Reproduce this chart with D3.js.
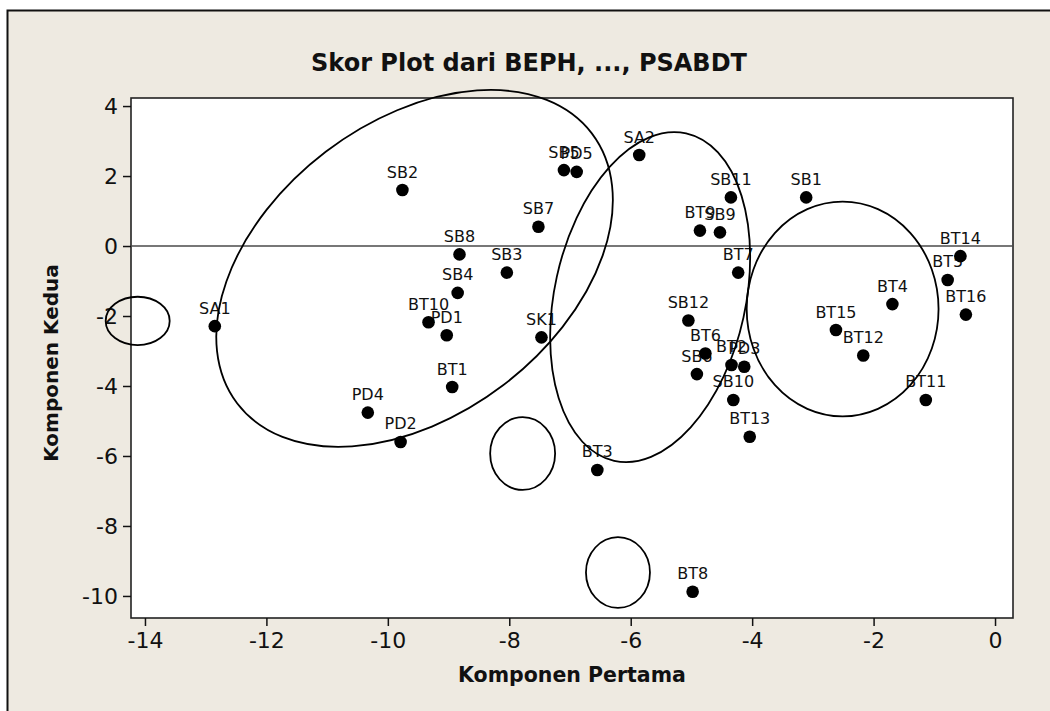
<!DOCTYPE html>
<html>
<head>
<meta charset="utf-8">
<script src="https://cdn.jsdelivr.net/npm/d3@7"></script>
<style>
  body { margin: 0; background: #fff; }
  svg text { font-family: "DejaVu Sans", Verdana, sans-serif; }
</style>
</head>
<body>
<svg id="chart"></svg>
<script>
// skor komponen
var names = ["SA1", "SB2", "BT10", "PD1", "BT1", "PD4", "PD2", "SB8", "SB4", "SB3",
             "SB7", "SB5", "PD5", "SA2", "SK1", "SB11", "BT9", "SB9", "BT7", "SB12",
             "BT6", "SB6", "BT2", "PD3", "SB10", "BT13", "BT3", "BT8", "SB1", "BT14",
             "BT5", "BT4", "BT16", "BT15", "BT12", "BT11"];
var pc1 = [-12.85, -9.76, -9.33, -9.03, -8.94, -10.33, -9.79, -8.82, -8.85, -8.04,
           -7.52, -7.10, -6.89, -5.86, -7.47, -4.35, -4.86, -4.53, -4.23, -5.05,
           -4.77, -4.91, -4.34, -4.13, -4.31, -4.04, -6.55, -4.98, -3.11, -0.57,
           -0.78, -1.69, -0.48, -2.62, -2.17, -1.14];
var pc2 = [-2.29, 1.60, -2.18, -2.55, -4.03, -4.76, -5.60, -0.24, -1.34, -0.76,
           0.55, 2.17, 2.12, 2.60, -2.61, 1.39, 0.44, 0.39, -0.76, -2.13,
           -3.07, -3.66, -3.40, -3.45, -4.40, -5.45, -6.40, -9.88, 1.39, -0.29,
           -0.97, -1.66, -1.96, -2.40, -3.13, -4.40];

var xTicks = [-14, -12, -10, -8, -6, -4, -2, 0];
var yTicks = [4, 2, 0, -2, -4, -6, -8, -10];

// elips yang digambar tangan: pusat dalam satuan data, jari-jari dalam satuan sumbu
var ellCx = [-14.12, -9.56, -5.68, -2.51, -7.78, -6.21];
var ellCy = [-2.14, -0.64, -1.46, -1.80, -5.93, -9.33];
var ellRx = [0.527, 3.67, 2.76, 1.58, 0.535, 0.527];
var ellRy = [0.69, 4.19, 2.73, 3.07, 1.04, 1.01];
var ellRot = [0, -37.3, -77.6, 0, 0, 0];

var width = 1050, height = 711;
var margin = { top: 98, right: 37, bottom: 93, left: 131 };

var svg = d3.select("#chart")
    .attr("width", width)
    .attr("height", height);

// bingkai luar (grafik asli lebih lebar dari gambar)
svg.append("rect")
    .attr("x", 7.5).attr("y", 10.5)
    .attr("width", 1200).attr("height", 900)
    .attr("fill", "#eeeae1")
    .attr("stroke", "#111")
    .attr("stroke-width", 2);

var x = d3.scaleLinear()
    .domain([-14.23, 0.296])
    .range([margin.left, width - margin.right]);

var y = d3.scaleLinear()
    .domain([-10.63, 4.23])
    .range([height - margin.bottom, margin.top]);

svg.append("rect")
    .attr("x", margin.left).attr("y", margin.top)
    .attr("width", width - margin.left - margin.right)
    .attr("height", height - margin.top - margin.bottom)
    .attr("fill", "#fff")
    .attr("stroke", "#222")
    .attr("stroke-width", 1.6);

var fmt = function (d) { return String(d); };

var xAxis = svg.append("g")
    .attr("transform", "translate(0," + (height - margin.bottom) + ")")
    .call(d3.axisBottom(x).tickValues(xTicks).tickFormat(fmt).tickSize(8).tickPadding(6));

var yAxis = svg.append("g")
    .attr("transform", "translate(" + margin.left + ",0)")
    .call(d3.axisLeft(y).tickValues(yTicks).tickFormat(fmt).tickSize(8).tickPadding(5));

[xAxis, yAxis].forEach(function (g) {
    g.select(".domain").remove();
    g.selectAll(".tick line").attr("stroke", "#111").attr("stroke-width", 1.5);
    g.selectAll(".tick text")
        .attr("fill", "#111")
        .style("font-size", "22px")
        .style("font-family", "'DejaVu Sans', Verdana, sans-serif");
});
yAxis.selectAll(".tick text").attr("dy", "0.36em");

// garis acuan y = 0
svg.append("line")
    .attr("x1", x(x.domain()[0])).attr("x2", x(x.domain()[1]))
    .attr("y1", y(0)).attr("y2", y(0))
    .attr("stroke", "#4a4a4a")
    .attr("stroke-width", 1.6);

// label titik dulu, titik digambar di atasnya
svg.append("g")
    .selectAll("text")
    .data(names)
    .join("text")
    .attr("x", function (d, i) { return x(pc1[i]); })
    .attr("y", function (d, i) { return y(pc2[i]) - 12.5; })
    .attr("text-anchor", "middle")
    .attr("fill", "#111")
    .style("font-size", "16px")
    .text(function (d) { return d; });

svg.append("g")
    .selectAll("circle")
    .data(names)
    .join("circle")
    .attr("cx", function (d, i) { return x(pc1[i]); })
    .attr("cy", function (d, i) { return y(pc2[i]); })
    .attr("r", 6.3)
    .attr("fill", "#000");

// elips anotasi
svg.append("g")
    .selectAll("ellipse")
    .data(ellCx)
    .join("ellipse")
    .attr("cx", function (d) { return x(d); })
    .attr("cy", function (d, i) { return y(ellCy[i]); })
    .attr("rx", function (d, i) { return x(ellRx[i]) - x(0); })
    .attr("ry", function (d, i) { return y(0) - y(ellRy[i]); })
    .attr("transform", function (d, i) {
        return "rotate(" + ellRot[i] + "," + x(d) + "," + y(ellCy[i]) + ")";
    })
    .attr("fill", "none")
    .attr("stroke", "#000")
    .attr("stroke-width", 1.8);

// judul dan label sumbu
svg.append("text")
    .attr("x", 529).attr("y", 71)
    .attr("text-anchor", "middle")
    .attr("fill", "#111")
    .style("font-size", "24px")
    .style("font-weight", "bold")
    .text("Skor Plot dari BEPH, ..., PSABDT");

svg.append("text")
    .attr("x", (x.range()[0] + x.range()[1]) / 2)
    .attr("y", 682)
    .attr("text-anchor", "middle")
    .attr("fill", "#111")
    .style("font-size", "20.5px")
    .style("font-weight", "bold")
    .text("Komponen Pertama");

svg.append("text")
    .attr("transform", "translate(58," + ((y.range()[0] + y.range()[1]) / 2 + 5) + ") rotate(-90)")
    .attr("text-anchor", "middle")
    .attr("fill", "#111")
    .style("font-size", "20px")
    .style("font-weight", "bold")
    .text("Komponen Kedua");
</script>
</body>
</html>
